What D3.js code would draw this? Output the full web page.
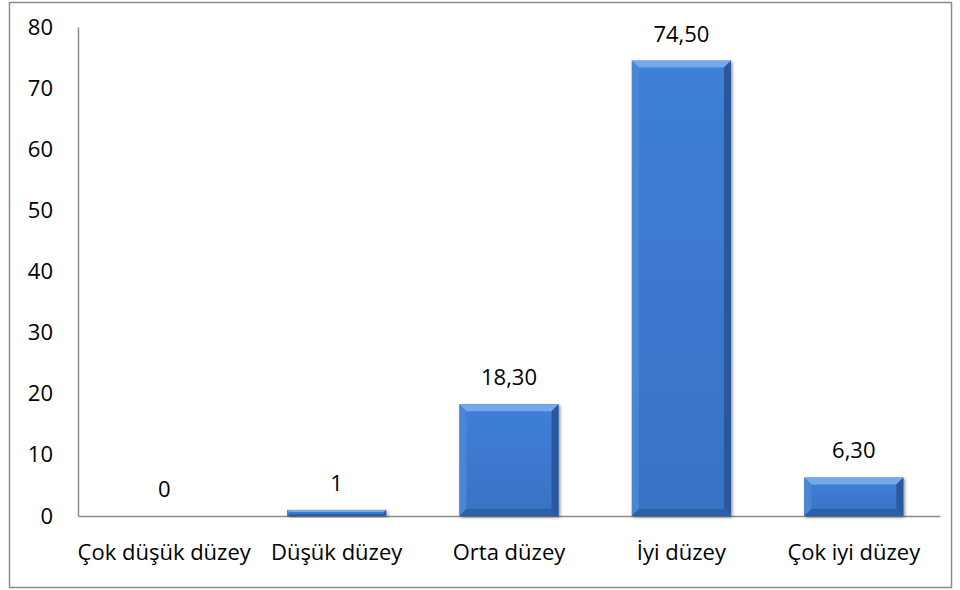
<!DOCTYPE html>
<html>
<head>
<meta charset="utf-8">
<script src="https://cdn.jsdelivr.net/npm/d3@7"></script>
<style>
  body { margin: 0; background: #fff; }
  text { font-family: "Open Sans", "Noto Sans", sans-serif; fill: #000; }
</style>
</head>
<body>
<div id="display"></div>
<script>
const categories = ["Çok düşük düzey", "Düşük düzey", "Orta düzey", "İyi düzey", "Çok iyi düzey"]
const values = [0, 1, 18.3, 74.5, 6.3]
const valueLabels = ["0", "1", "18,30", "74,50", "6,30"]
const yTicks = [0, 10, 20, 30, 40, 50, 60, 70, 80]

const width = 960, height = 590
const margin = {top: 27, right: 20, bottom: 74, left: 78}
const fontSize = '22px'

const svg = d3.select('#display').append('svg')
    .attr('width', width)
    .attr('height', height)

const defs = svg.append('defs')
const grad = defs.append('linearGradient').attr('id', 'barGrad')
    .attr('x1', '0%').attr('x2', '0%').attr('y1', '0%').attr('y2', '100%')
grad.append('stop').attr('offset', '0%').attr('stop-color', '#3f80d8')
grad.append('stop').attr('offset', '100%').attr('stop-color', '#3872c4')

const shadow = defs.append('filter').attr('id', 'shadow')
    .attr('x', '-10%').attr('y', '-10%').attr('width', '130%').attr('height', '130%')
shadow.append('feDropShadow').attr('dx', 1.5).attr('dy', 1.5).attr('stdDeviation', 1.5)
    .attr('flood-color', '#000').attr('flood-opacity', 0.4)

// outer border
svg.append('rect')
    .attr('x', 9.5).attr('y', 2.5)
    .attr('width', 942).attr('height', 585)
    .attr('fill', 'none')
    .attr('stroke', '#8c8c8c')
    .attr('stroke-width', 1.5)

const xScale = d3.scaleBand()
    .domain(categories)
    .range([margin.left, 940])
    .paddingInner(0.425)
    .paddingOuter(0.2125)

const yScale = d3.scaleLinear()
    .domain([0, 80])
    .range([516, margin.top])

// y axis
const yAxis = svg.append('g')
    .attr('transform', 'translate(' + margin.left + ',0)')
    .call(d3.axisLeft(yScale).tickValues(yTicks).tickSize(0).tickPadding(25))
yAxis.select('.domain').attr('stroke', '#8c8c8c').attr('stroke-width', 1.5)
yAxis.selectAll('text')
    .style('font-size', fontSize)

// x axis
const xAxis = svg.append('g')
    .attr('transform', 'translate(0,516)')
    .call(d3.axisBottom(xScale).tickSize(0).tickPadding(0))
xAxis.select('.domain').attr('stroke', '#8c8c8c').attr('stroke-width', 1.5)
xAxis.selectAll('text')
    .attr('dy', 0)
    .attr('y', 44)
    .style('font-size', fontSize)

// bars
svg.selectAll('.bar').data(values)
    .enter()
    .append('g')
    .attr('class', 'bar')
    .attr('filter', 'url(#shadow)')
    .filter(d => d > 0)
    .each(function(d) {
        const g = d3.select(this)
        const idx = values.indexOf(d)
        const x0 = xScale(categories[idx])
        const w = xScale.bandwidth()
        const y0 = yScale(d)
        const h = yScale(0) - y0
        const b = Math.min(7, h / 3)
        g.append('rect')
            .attr('x', x0).attr('y', y0)
            .attr('width', w).attr('height', h)
            .attr('fill', 'url(#barGrad)')
        // top bevel
        g.append('path')
            .attr('d', `M${x0},${y0}L${x0 + w},${y0}L${x0 + w - b},${y0 + b}L${x0 + b},${y0 + b}Z`)
            .attr('fill', '#76a8ea')
        // left bevel
        g.append('path')
            .attr('d', `M${x0},${y0}L${x0 + b},${y0 + b}L${x0 + b},${y0 + h - b}L${x0},${y0 + h}Z`)
            .attr('fill', '#4a86d6')
        // right bevel
        g.append('path')
            .attr('d', `M${x0 + w},${y0}L${x0 + w - b},${y0 + b}L${x0 + w - b},${y0 + h - b}L${x0 + w},${y0 + h}Z`)
            .attr('fill', '#29589c')
        // bottom bevel
        g.append('path')
            .attr('d', `M${x0},${y0 + h}L${x0 + b},${y0 + h - b}L${x0 + w - b},${y0 + h - b}L${x0 + w},${y0 + h}Z`)
            .attr('fill', '#2c60a8')
    })

// value labels
svg.selectAll('.value').data(values)
    .enter()
    .append('text')
    .attr('class', 'value')
    .attr('x', (d, i) => xScale(categories[i]) + xScale.bandwidth() / 2)
    .attr('y', d => yScale(d) - 19)
    .attr('text-anchor', 'middle')
    .style('font-size', fontSize)
    .text((d, i) => valueLabels[i])
</script>
</body>
</html>
